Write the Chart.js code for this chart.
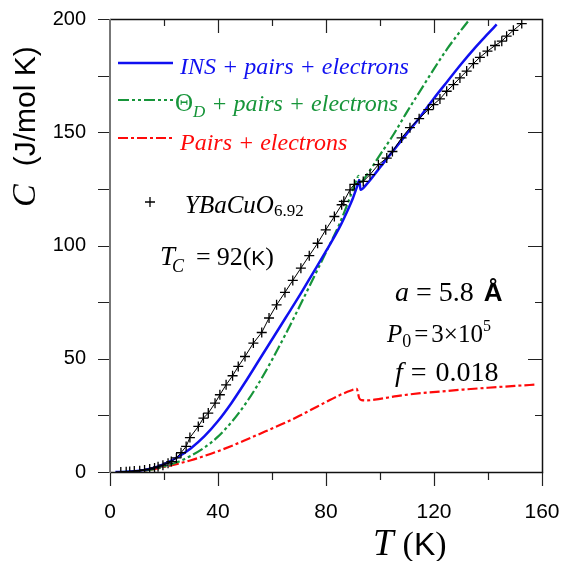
<!DOCTYPE html>
<html>
<head>
<meta charset="utf-8">
<script src="https://cdn.jsdelivr.net/npm/chart.js@4"></script>
<style>
  html, body { margin: 0; padding: 0; background: #fff; }
  #wrap { width: 569px; height: 561px; }
</style>
</head>
<body>
<div id="wrap"><canvas id="chart" width="569" height="561"></canvas></div>
<script>
// YBaCuO6.92 measured points (T in K, C in J/mol K)
const crossT = [4, 6, 7.3, 9, 11, 12.8, 14.7, 16.5, 17.8, 19.6, 21.5, 22.7, 24.6, 26.3, 28.2, 29.6, 32.7, 34.6, 36.4, 38.9, 40.7, 43, 45.4, 47.5, 50, 53.1, 56.2, 58.9, 61.7, 64.8, 67.7, 70.7, 73.8, 76.9, 79.9, 83.1, 85.8, 86.6, 88.9, 90.5, 93.8, 96.3, 99.4, 102.5, 104.6, 108, 111.1, 114.5, 117.9, 119.8, 122.2, 124.7, 127.2, 129.6, 132.1, 134.6, 137, 139.8, 142.6, 145.1, 146.9, 149.4, 152.5];
const crossC = [0, 0.1, 0.2, 0.4, 0.6, 0.9, 1.3, 1.8, 2.3, 3.0, 3.9, 4.6, 6.2, 8.5, 11.3, 15.2, 20.1, 23.8, 26, 30.4, 34.1, 38.5, 42.5, 46.6, 51, 56.9, 61.6, 68, 73.8, 79.3, 84.6, 90, 95.5, 101, 106.9, 112.8, 118, 119.5, 124.6, 127, 128.3, 131.3, 135.7, 138.6, 141.5, 147.5, 152, 156, 160, 162.2, 164.7, 168.1, 171, 174, 177, 180.3, 183.1, 185.8, 188.3, 190.2, 192.4, 195, 198];

// INS + pairs + electrons
const insT = [2, 5, 10, 15, 20, 25, 30, 35, 40, 45, 50, 55, 60, 65, 70, 75, 80, 85, 88, 90, 91.5, 92.3, 92.8, 95, 100, 105, 110, 115, 120, 125, 130, 135, 140, 143.2];
const insC = [0, 0.05, 0.5, 1.5, 3.5, 6.5, 10.5, 15.8, 22.5, 30.5, 39.5, 49, 58.5, 68, 77.5, 87.5, 97.5, 108, 115.5, 121, 126, 128.8, 124.6, 127, 134.5, 142, 149.5, 157, 165, 172.5, 180, 187, 193.5, 197.6];

// Theta_D + pairs + electrons
const debyeT = [3, 10, 15, 20, 25, 30, 35, 40, 45, 50, 55, 60, 65, 70, 75, 80, 85, 88, 90, 91.5, 92, 92.5, 95, 100, 105, 110, 115, 120, 125, 130, 133.3];
const debyeC = [0, 0.3, 1, 2.4, 4.4, 7.2, 10.8, 15.6, 22, 29.8, 39, 49.5, 60.8, 72.6, 84.8, 97, 109.5, 118.5, 124.8, 129.5, 130.8, 127.5, 131, 140, 149, 159, 168.5, 178, 187, 195, 200];

// Pairs + electrons
const pairT = [8, 10, 15, 20, 25, 30, 35, 40, 45, 50, 55, 60, 65, 70, 75, 80, 85, 89, 91.4, 92, 92.3, 93.2, 95, 100, 106.2, 115, 122, 130.9, 140, 150, 158];
const pairC = [0, 0.2, 1, 2.2, 3.6, 5.2, 7.1, 9.2, 11.5, 14, 16.6, 19.2, 21.8, 24.7, 27.8, 30.9, 33.9, 35.9, 36.7, 34, 32.6, 31.7, 31.6, 32.3, 33.5, 34.8, 35.5, 36.4, 37.2, 38, 38.6];

const blue = '#1010f0';
const green = '#17953a';
const red = '#ff0a0a';
const greenDash = [11, 3, 3, 3, 3, 3];
const redDash = [10, 3, 3, 3];

const serif = '"Liberation Serif", "Times New Roman", serif';
const sans = '"Liberation Sans", Arial, sans-serif';

function pts(xs, ys) {
    return xs.map((x, i) => ({ x: x, y: ys[i] }));
}

// draw a row of text pieces, each with its own font / colour / shift
function drawRuns(ctx, x, y, runs) {
    runs.forEach(r => {
        ctx.font = r.font;
        ctx.fillStyle = r.color || '#000';
        x += r.dx || 0;
        ctx.fillText(r.text, x, y + (r.dy || 0));
        x += ctx.measureText(r.text).width;
    });
    return x;
}

const framePlugin = {
    id: 'frame',
    afterDraw(chart) {
        const ctx = chart.ctx;
        const a = chart.chartArea;
        const xs = chart.scales.x;
        const ys = chart.scales.y;
        ctx.save();

        // ticks: outward on left/bottom, inward on right/top
        ctx.strokeStyle = '#222';
        ctx.lineWidth = 1.2;
        ctx.beginPath();
        for (let v = 0; v <= 200; v += 25) {
            const py = Math.round(ys.getPixelForValue(v)) + 0.5;
            const major = v % 50 === 0;
            ctx.moveTo(a.left - 12, py); ctx.lineTo(a.left, py);
            if (v > 0 && v < 200) {
                ctx.moveTo(a.right, py); ctx.lineTo(a.right - (major ? 14 : 7), py);
            }
        }
        for (let v = 0; v <= 160; v += 20) {
            const px = Math.round(xs.getPixelForValue(v)) + 0.5;
            const major = v % 40 === 0;
            ctx.moveTo(px, a.bottom); ctx.lineTo(px, a.bottom + (major ? 14 : 8));
            if (v > 0 && v < 160) {
                ctx.moveTo(px, a.top); ctx.lineTo(px, a.top + (major ? 14 : 7));
            }
        }
        ctx.stroke();

        // frame
        ctx.lineWidth = 1.5;
        ctx.strokeStyle = '#111';
        ctx.beginPath();
        ctx.moveTo(a.left, a.bottom + 0.5); ctx.lineTo(a.right + 0.5, a.bottom + 0.5);
        ctx.lineTo(a.right + 0.5, a.top + 0.5); ctx.lineTo(a.left, a.top + 0.5);
        ctx.stroke();
        ctx.strokeStyle = '#777';
        ctx.lineWidth = 2;
        ctx.beginPath();
        ctx.moveTo(a.left, a.top); ctx.lineTo(a.left, a.bottom + 1);
        ctx.stroke();

        // legend
        ctx.textBaseline = 'alphabetic';
        ctx.textAlign = 'left';
        const legend = [
            { y: 63, color: blue, dash: [], width: 2.5 },
            { y: 100, color: green, dash: greenDash, width: 2.2 },
            { y: 138, color: red, dash: redDash, width: 2.2 }
        ];
        legend.forEach(l => {
            ctx.beginPath();
            ctx.setLineDash(l.dash);
            ctx.strokeStyle = l.color;
            ctx.lineWidth = l.width;
            ctx.moveTo(118, l.y); ctx.lineTo(173, l.y);
            ctx.stroke();
        });
        ctx.setLineDash([]);
        const it24 = 'italic 24px ' + serif;
        drawRuns(ctx, 180, 74, [{ text: 'INS + pairs + electrons', font: it24, color: blue }]);
        drawRuns(ctx, 175, 111, [
            { text: 'Θ', font: '25px ' + serif, color: green },
            { text: 'D', font: 'italic 17px ' + serif, color: green, dy: 6 },
            { text: ' + pairs + electrons', font: it24, color: green }
        ]);
        drawRuns(ctx, 180, 150, [{ text: 'Pairs + electrons', font: it24, color: red }]);

        // sample label
        ctx.strokeStyle = '#000';
        ctx.lineWidth = 1.3;
        ctx.beginPath();
        ctx.moveTo(145, 202); ctx.lineTo(155, 202);
        ctx.moveTo(150, 197); ctx.lineTo(150, 207);
        ctx.stroke();
        drawRuns(ctx, 185, 213, [
            { text: 'YBaCuO', font: 'italic 25px ' + serif },
            { text: '6.92', font: '17px ' + serif, dy: 3 }
        ]);
        drawRuns(ctx, 160, 265, [
            { text: 'T', font: 'italic 27px ' + serif },
            { text: 'C', font: 'italic 18px ' + serif, dy: 7, dx: -3 },
            { text: '=', font: '26px ' + serif, dx: 12 },
            { text: '92(', font: '26px ' + serif, dx: 6 },
            { text: 'K', font: '21px ' + sans },
            { text: ')', font: '26px ' + serif }
        ]);

        // parameters
        drawRuns(ctx, 395, 301, [
            { text: 'a', font: 'italic 28px ' + serif },
            { text: '=', font: '28px ' + serif, dx: 7 },
            { text: '5.8', font: '28px ' + serif, dx: 7 },
            { text: 'Å', font: 'bold 26px ' + sans, dx: 10 }
        ]);
        drawRuns(ctx, 387, 342, [
            { text: 'P', font: 'italic 25px ' + serif },
            { text: '0', font: '18px ' + serif, dy: 5 },
            { text: '=', font: '25px ' + serif, dx: 3 },
            { text: '3×10', font: '25px ' + serif, dx: 3 },
            { text: '5', font: '16px ' + serif, dy: -11 }
        ]);
        drawRuns(ctx, 395, 381, [
            { text: 'f', font: 'italic 28px ' + serif },
            { text: '=', font: '28px ' + serif, dx: 8 },
            { text: '0.018', font: '28px ' + serif, dx: 9 }
        ]);

        // axis titles
        drawRuns(ctx, 373, 555, [
            { text: 'T', font: 'italic 37px ' + serif },
            { text: '(', font: '34px ' + serif, dx: 9 },
            { text: 'K', font: '32px ' + sans },
            { text: ')', font: '34px ' + serif }
        ]);
        ctx.save();
        ctx.translate(35, 207);
        ctx.rotate(-Math.PI / 2);
        drawRuns(ctx, 0, 0, [
            { text: 'C', font: 'italic 34px ' + serif },
            { text: '(J/mol K)', font: '30px ' + sans, dx: 18 }
        ]);
        ctx.restore();

        ctx.restore();
    }
};

const chart = new Chart(document.getElementById('chart'), {
    type: 'scatter',
    data: {
        datasets: [
            {
                label: 'YBaCuO6.92',
                data: pts(crossT, crossC),
                showLine: true,
                borderColor: '#000',
                borderWidth: 1,
                pointStyle: 'cross',
                pointRadius: 5,
                pointBorderWidth: 1.3,
                pointBorderColor: '#000'
            },
            {
                label: 'INS + pairs + electrons',
                data: pts(insT, insC),
                showLine: true,
                borderColor: blue,
                borderWidth: 2.5,
                pointRadius: 0,
                cubicInterpolationMode: 'monotone'
            },
            {
                label: 'ΘD + pairs + electrons',
                data: pts(debyeT, debyeC),
                showLine: true,
                borderColor: green,
                borderWidth: 2.2,
                borderDash: greenDash,
                pointRadius: 0,
                cubicInterpolationMode: 'monotone'
            },
            {
                label: 'Pairs + electrons',
                data: pts(pairT, pairC),
                showLine: true,
                borderColor: red,
                borderWidth: 2.2,
                borderDash: redDash,
                pointRadius: 0,
                cubicInterpolationMode: 'monotone'
            }
        ]
    },
    options: {
        responsive: false,
        animation: false,
        devicePixelRatio: 1,
        layout: { padding: { left: 0, top: 19, right: 27, bottom: 0 } },
        plugins: {
            legend: { display: false },
            tooltip: { enabled: false }
        },
        scales: {
            x: {
                min: 0,
                max: 160,
                grid: { display: false, drawTicks: false },
                border: { display: false },
                ticks: {
                    stepSize: 40,
                    padding: 28,
                    color: '#000',
                    font: { family: sans, size: 21 }
                },
                afterFit(scale) {
                    scale.height = 89;
                    scale.paddingLeft = 0;
                    scale.paddingRight = 0;
                }
            },
            y: {
                min: 0,
                max: 200,
                grid: { display: false, drawTicks: false },
                border: { display: false },
                ticks: {
                    stepSize: 50,
                    padding: 24,
                    color: '#000',
                    font: { family: sans, size: 20 }
                },
                afterFit(scale) {
                    scale.width = 110;
                    scale.paddingTop = 0;
                    scale.paddingBottom = 0;
                }
            }
        }
    },
    plugins: [framePlugin]
});
</script>
</body>
</html>
